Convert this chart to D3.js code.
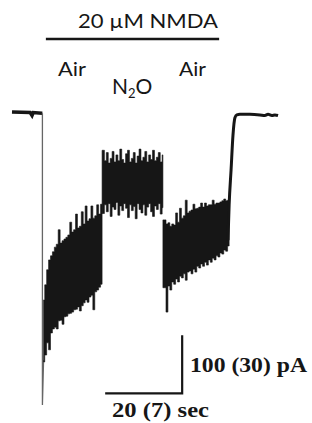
<!DOCTYPE html>
<html>
<head>
<meta charset="utf-8">
<script src="https://cdn.jsdelivr.net/npm/d3@7"></script>
<style>
  body { margin: 0; background: #fff; }
  svg { display: block; }
</style>
</head>
<body>
<div id="chart"></div>
<script>
// Whole-cell current trace, time in s, current in pA

// Resting baseline before NMDA
const baseLeftT = [0, 4.7, 5.2, 5.5, 7.8, 7.9];
const baseLeftI = [0, -1, -6, -1, -2, -2];

// Fast inward peak on NMDA arrival
const dropT = [7.9, 7.9, 8.2];
const dropI = [-2, -505, -428];

// Air (first) – noisy band, upper and lower edges
const seg1T = [8.2, 8.5, 9, 9.5, 10, 10.5, 11, 11.5, 12, 12.5, 13, 13.5, 14, 14.5, 15, 15.5,
               16, 16.5, 17, 17.5, 18, 18.5, 19, 19.5, 20, 20.5, 21, 21.5, 22, 22.5, 23, 23.4];
const seg1Top = [-324, -298, -272, -255, -248, -241, -233, -228, -203, -226, -222, -219, -216, -212, -190, -207,
                 -203, -176, -200, -197, -172, -193, -162, -188, -184, -162, -183, -179, -160, -176, -159, -172];
const seg1Bot = [-431, -419, -398, -410, -381, -374, -371, -374, -360, -359, -366, -353, -352, -348, -347, -345,
                 -341, -340, -336, -343, -334, -329, -324, -328, -319, -316, -341, -310, -307, -302, -297, -295];

// N2O
const seg2T = [23.4, 24, 24.5, 25, 25.5, 26, 26.5, 27, 27.5, 28, 28.5, 29, 29.5, 30, 30.5, 31,
               31.5, 32, 32.5, 33, 33.5, 34, 34.5, 35, 35.5, 36, 36.5, 37, 37.5, 38, 38.5, 39, 39.2];
const seg2Top = [-66, -84, -70, -88, -80, -68, -86, -74, -84, -64, -82, -88, -72, -66, -86, -80,
                 -70, -88, -76, -64, -84, -78, -68, -86, -74, -82, -66, -84, -78, -70, -86, -74, -74];
const seg2Bot = [-175, -160, -172, -158, -180, -164, -168, -156, -178, -162, -170, -158, -166, -182, -160, -170,
                 -163, -184, -158, -168, -174, -160, -178, -164, -158, -172, -180, -162, -168, -158, -176, -165, -165];

// Air (washout of N2O)
const seg3T = [39.2, 40, 40.5, 41, 41.5, 42, 42.5, 43, 43.5, 44, 44.5, 45, 45.5, 46, 46.5, 47,
               47.5, 48, 48.5, 49, 49.5, 50, 50.5, 51, 51.5, 52, 52.5, 53, 53.5, 54, 54.5, 55, 55.5, 56, 56.4];
const seg3Top = [-186, -193, -191, -197, -193, -195, -174, -190, -166, -183, -179, -152, -174, -171, -169, -159,
                 -167, -166, -164, -157, -164, -157, -162, -160, -160, -152, -159, -157, -157, -155, -153, -150, -153, -152, -152];
const seg3Bot = [-303, -345, -300, -307, -293, -297, -288, -293, -283, -286, -279, -290, -276, -274, -279, -271,
                 -276, -266, -269, -262, -266, -259, -264, -255, -259, -252, -255, -248, -250, -243, -245, -238, -240, -231, -231];

// NMDA washout and recovered baseline
const riseT = [56.1, 56.4, 56.9, 57.4, 57.9, 58.4, 59.2, 61.8, 64.4, 65.7, 66.5, 67.5, 68.3, 69.1];
const riseI = [-221, -160, -100, -40, -10, -5, -4, -4, -5, -6, -4, -6, -5, -6];

// Application bar and scale bars
const nmdaBar = [8.8, 53.8];
const scaleBarT = [24.2, 44.2];   // 20 s
const scaleBarI = [-485, -385];   // 100 pA

const W = 312, H = 423;
const ink = "#161616";

const svg = d3.select("#chart").append("svg")
    .attr("width", W)
    .attr("height", H);

const x = d3.scaleLinear().domain([0, 70]).range([12, 12 + 70 * 3.85]);
const y = d3.scaleLinear().domain([0, -500]).range([112, 112 + 500 * 0.58]);

const line = d3.line()
    .x(d => x(d[0]))
    .y(d => y(d[1]));

const band = d3.area()
    .curve(d3.curveStepAfter)
    .x(d => x(d.t))
    .y0(d => y(d.lo))
    .y1(d => y(d.hi));

// Baselines
svg.append("path")
    .attr("d", line(d3.zip(baseLeftT, baseLeftI)))
    .attr("fill", "none")
    .attr("stroke", ink)
    .attr("stroke-width", 3.5);

svg.append("path")
    .attr("d", line(d3.zip(dropT, dropI)))
    .attr("fill", "none")
    .attr("stroke", "#666")
    .attr("stroke-width", 1.3);

// Noisy current bands
[[seg1T, seg1Top, seg1Bot], [seg2T, seg2Top, seg2Bot], [seg3T, seg3Top, seg3Bot]].forEach(([T, hi, lo]) => {
    const pts = T.map((t, i) => ({ t: t, hi: hi[i], lo: lo[i] }));
    svg.append("path")
        .attr("d", band(pts))
        .attr("fill", ink)
        .attr("stroke", ink)
        .attr("stroke-width", 0.6);
});

svg.append("path")
    .attr("d", line.curve(d3.curveMonotoneX)(d3.zip(riseT, riseI)))
    .attr("fill", "none")
    .attr("stroke", ink)
    .attr("stroke-width", 3)
    .attr("stroke-linejoin", "round");

// NMDA application bar and label
svg.append("line")
    .attr("x1", x(nmdaBar[0]))
    .attr("x2", x(nmdaBar[1]))
    .attr("y1", 39)
    .attr("y2", 39)
    .attr("stroke", ink)
    .attr("stroke-width", 2.5);

const sans = "Lato, 'Open Sans', sans-serif";

svg.append("text")
    .attr("x", 78)
    .attr("y", 28)
    .attr("textLength", 140)
    .attr("lengthAdjust", "spacingAndGlyphs")
    .style("font-family", sans)
    .style("font-size", "20px")
    .style("fill", ink)
    .text("20 \u00B5M NMDA");

svg.append("text")
    .attr("x", 58)
    .attr("y", 76)
    .attr("textLength", 28)
    .attr("lengthAdjust", "spacingAndGlyphs")
    .style("font-family", sans)
    .style("font-size", "20px")
    .style("fill", ink)
    .text("Air");

svg.append("text")
    .attr("x", 179)
    .attr("y", 76)
    .attr("textLength", 27)
    .attr("lengthAdjust", "spacingAndGlyphs")
    .style("font-family", sans)
    .style("font-size", "20px")
    .style("fill", ink)
    .text("Air");

const n2o = svg.append("text")
    .attr("x", 112)
    .attr("y", 94)
    .style("font-family", sans)
    .style("font-size", "21px")
    .style("fill", ink);
n2o.append("tspan").text("N");
n2o.append("tspan").attr("dy", 4).style("font-size", "13px").text("2");
n2o.append("tspan").attr("dy", -4).text("O");

// Scale bars
svg.append("path")
    .attr("d", line.curve(d3.curveLinear)([[scaleBarT[0], scaleBarI[0]], [scaleBarT[1], scaleBarI[0]], [scaleBarT[1], scaleBarI[1]]]))
    .attr("fill", "none")
    .attr("stroke", ink)
    .attr("stroke-width", 2.2);

const serif = "'Liberation Serif', 'DejaVu Serif', serif";

svg.append("text")
    .attr("x", 190)
    .attr("y", 372)
    .attr("textLength", 117)
    .attr("lengthAdjust", "spacingAndGlyphs")
    .style("font-family", serif)
    .style("font-weight", "bold")
    .style("font-size", "20px")
    .style("fill", ink)
    .text("100 (30) pA");

svg.append("text")
    .attr("x", 112)
    .attr("y", 417)
    .attr("textLength", 97)
    .attr("lengthAdjust", "spacingAndGlyphs")
    .style("font-family", serif)
    .style("font-weight", "bold")
    .style("font-size", "20px")
    .style("fill", ink)
    .text("20 (7) sec");
</script>
</body>
</html>
